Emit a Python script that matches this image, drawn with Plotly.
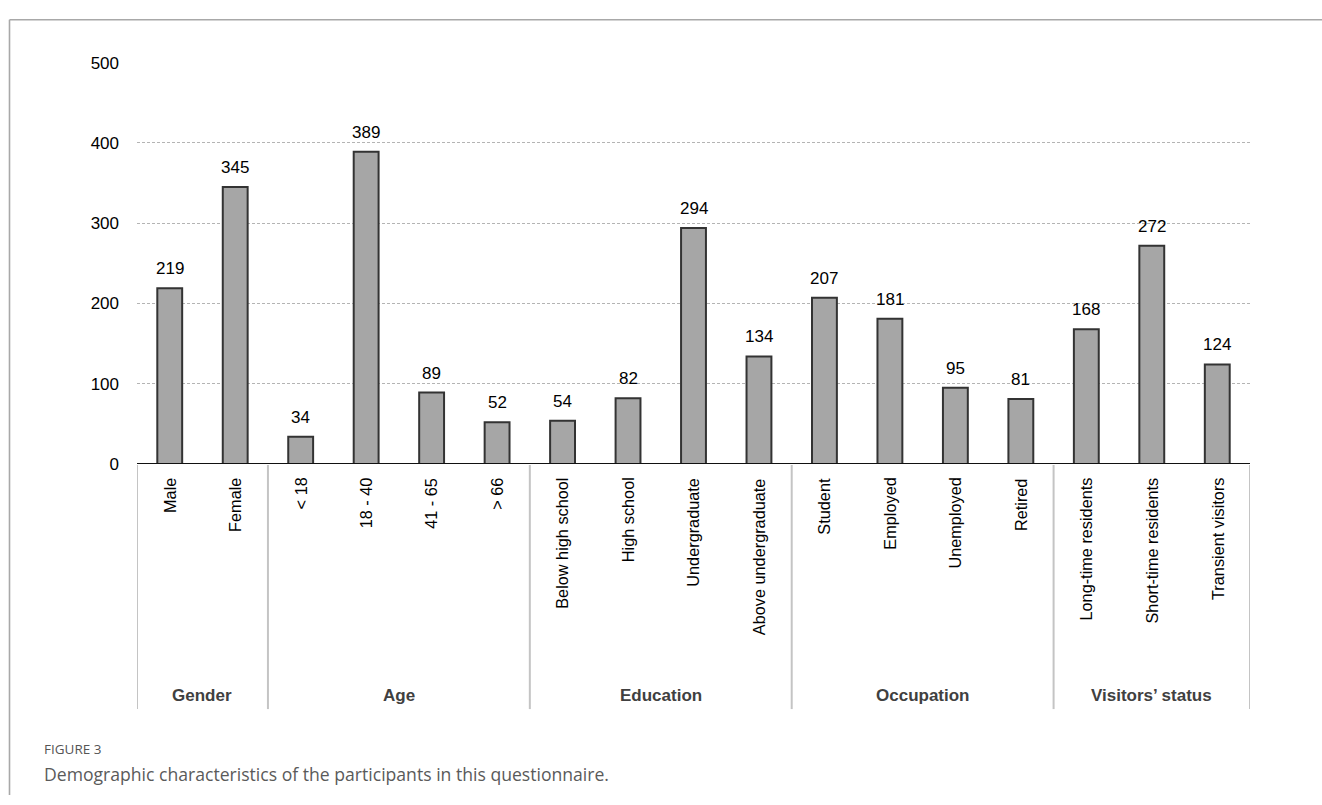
import plotly.graph_objects as go

# Survey counts by demographic characteristic
categories = [
    "Male", "Female",
    "< 18", "18 - 40", "41 - 65", "> 66",
    "Below high school", "High school", "Undergraduate", "Above undergraduate",
    "Student", "Employed", "Unemployed", "Retired",
    "Long-time residents", "Short-time residents", "Transient visitors",
]
counts = [219, 345, 34, 389, 89, 52, 54, 82, 294, 134, 207, 181, 95, 81, 168, 272, 124]
groups = ["Gender", "Age", "Education", "Occupation", "Visitors’ status"]
group_sizes = [2, 4, 4, 4, 3]
y_ticks = [0, 100, 200, 300, 400, 500]

W, H = 1322, 805
FONT = "Liberation Sans, Arial, sans-serif"
CAPTION_FONT = "Open Sans, sans-serif"


def px_x(p):
    return p / W


def px_y(p):
    return (H - p) / H


x_pos = list(range(len(categories)))

fig = go.Figure()
fig.add_trace(go.Bar(
    x=x_pos, y=counts, width=0.38,
    marker=dict(color="#a6a6a6", line=dict(color="#333333", width=2)),
    showlegend=False, hoverinfo="x+y",
))

fig.update_layout(
    width=W, height=H,
    margin=dict(l=0, r=0, t=0, b=0),
    paper_bgcolor="white", plot_bgcolor="white",
    xaxis=dict(
        domain=[px_x(137), px_x(1250)], range=[-0.5, len(categories) - 0.5],
        showticklabels=False, showgrid=False, zeroline=False,
        showline=False, ticks="",
    ),
    yaxis=dict(
        domain=[px_y(466), px_y(55)], range=[0, 500],
        tickvals=y_ticks, ticktext=[str(v) for v in y_ticks],
        tickfont=dict(family=FONT, size=17, color="#000000"),
        showgrid=True, gridcolor="#b4b4b4", griddash="3px,2px", gridwidth=1,
        zeroline=False, showline=False, ticks="", ticklabelstandoff=17,
    ),
)

shapes = []
annotations = []

# Value labels above each bar
for xi, v in zip(x_pos, counts):
    annotations.append(dict(
        x=xi, y=v, xref="x", yref="y", text=str(v), showarrow=False,
        xanchor="center", yanchor="bottom", yshift=8,
        font=dict(family=FONT, size=17, color="#000000"),
    ))

# Baseline
shapes.append(dict(type="line", xref="x", yref="y", x0=-0.5, x1=len(categories) - 0.5,
                   y0=0, y1=0, line=dict(color="#111111", width=2.2)))

# Group separators and group titles
edges = [-0.5]
for n in group_sizes:
    edges.append(edges[-1] + n)
for e in edges:
    shapes.append(dict(type="line", xref="x", yref="paper", x0=e, x1=e,
                       y0=px_y(717), y1=px_y(467), line=dict(color="#c4c4c4", width=2)))

for i, g in enumerate(groups):
    annotations.append(dict(
        x=(edges[i] + edges[i + 1]) / 2, y=px_y(703), xref="x", yref="paper",
        text=f"<b>{g}</b>", showarrow=False, xanchor="center", yanchor="middle",
        font=dict(family=FONT, size=17, color="#404040"),
    ))

# Rotated category labels under the axis
for xi, c in zip(x_pos, categories):
    annotations.append(dict(
        x=xi, y=px_y(478), xref="x", yref="paper", text=c, textangle=-90,
        showarrow=False, xanchor="center", yanchor="top",
        font=dict(family=FONT, size=16.3, color="#000000"),
    ))

# Outer frame (left and top edges)
shapes.append(dict(type="line", xref="paper", yref="paper", x0=px_x(9.5), x1=px_x(9.5),
                   y0=0, y1=px_y(11), line=dict(color="#a8a8a8", width=1.6)))
shapes.append(dict(type="line", xref="paper", yref="paper", x0=px_x(9.5), x1=1,
                   y0=px_y(11), y1=px_y(11), line=dict(color="#a8a8a8", width=1.6)))

# Caption
annotations.append(dict(
    x=px_x(42), y=px_y(758), xref="paper", yref="paper", text="FIGURE 3",
    showarrow=False, xanchor="left", yanchor="middle",
    font=dict(family=CAPTION_FONT, size=13.5, color="#555555"),
))
annotations.append(dict(
    x=px_x(42), y=px_y(784), xref="paper", yref="paper",
    text="Demographic characteristics of the participants in this questionnaire.",
    showarrow=False, xanchor="left", yanchor="middle",
    font=dict(family=CAPTION_FONT, size=17.6, color="#5a5a5a"),
))

fig.update_layout(shapes=shapes, annotations=annotations)
fig.write_html("out.html")
